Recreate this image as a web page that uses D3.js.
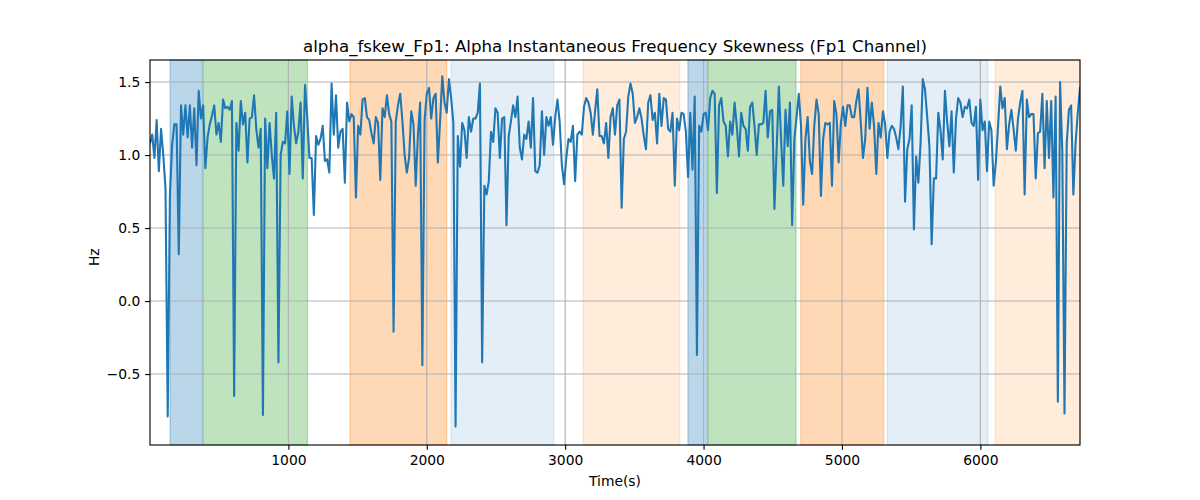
<!DOCTYPE html>
<html>
<head>
<meta charset="utf-8">
<script src="https://cdn.jsdelivr.net/npm/d3@7"></script>
<style>
  body { margin: 0; background: #fff; }
  svg text { font-family: "DejaVu Sans", sans-serif; fill: #000; }
</style>
</head>
<body>
<div id="chart-wrapper"></div>
<script>
// Sampling of the series (seconds)
const sampleStep = 16;

const hzPart1 = [
  1.08,1.14,0.98,1.24,0.89,1.18,1.00,0.77,-0.79,0.73,
  1.07,1.21,1.21,0.32,1.34,1.14,1.34,1.12,1.34,1.05,
  1.32,0.93,1.44,1.25,1.34,0.91,1.12,1.21,1.27,1.34,
  1.14,1.22,1.09,1.38,1.32,1.33,1.31,1.37,-0.65,1.22,
  1.03,1.37,1.21,1.29,0.95,1.25,1.26,1.41,1.18,1.05,
  1.18,-0.78,1.25,0.91,1.22,1.00,0.84,1.29,-0.42,1.00,
  1.09,1.08,1.30,0.87,1.40,1.20,1.08,1.16,1.36,0.84,
  1.48,1.26,0.98,0.98,0.59,1.13,1.07,1.11,1.20,0.96,
  0.97,0.88,1.49,1.14,1.41,1.05,1.16,1.18,0.81,1.36,
  1.23,1.28,1.26,0.71,1.20,1.14,1.38,1.39,1.26,1.24,
  1.15,1.08,1.26,1.22,0.83,1.32,1.26,1.41,1.28
];
const hzPart2 = [
  1.23,-0.21,1.23,1.34,1.42,1.23,1.00,0.88,0.98,1.30,
  1.21,0.79,1.14,1.36,-0.44,1.24,1.42,1.46,1.25,1.39,
  1.42,0.95,1.23,1.54,1.36,1.29,1.52,1.39,1.22,-0.86,
  1.13,0.92,1.22,1.17,0.98,1.26,1.16,1.25,1.25,1.29,
  1.49,-0.42,0.79,0.73,0.82,1.16,1.09,1.32,1.29,0.98,
  1.25,1.26,0.52,1.13,1.23,1.34,1.26,1.40,1.05,0.97,
  1.14,1.11,1.23,1.05,1.39,0.89,0.88,0.93,1.30,1.00,
  1.26,1.20,1.26,1.07,1.26,1.38,1.23,0.93,0.80,0.98,
  1.11,1.09,1.20,0.82,1.14,1.16,1.14,1.33,1.39,1.36,
  1.29,1.14,1.30,1.45,1.13,1.13,1.08,1.22,0.98,1.26,
  1.32,1.14,1.34,1.38
];
const hzPart3 = [
  0.64,
  1.11,1.16,1.40,1.49,1.42,1.22,1.26,1.32,1.25,1.13,
  1.04,1.36,1.41,1.24,1.29,1.08,1.42,1.20,1.39,1.38,
  1.18,1.16,1.29,0.79,1.25,1.17,1.29,1.28,1.16,0.85,
  1.29,0.90,1.40,
  -0.37,
  1.20,1.16,1.28,1.29,1.17,1.39,1.44,1.42
];
const hzPart4 = [
  0.74,1.34,1.39,1.23,1.20,0.99,1.23,1.14,1.36,1.20,
  0.99,1.29,1.20,1.18,1.03,1.33,1.36,1.20,1.00,1.21,
  1.21,1.22,1.44,1.12,1.30,1.31,0.63,1.04,1.47,1.11,
  0.79,1.31,1.06,1.36,0.52,1.11,1.26,1.42,1.20,0.66,
  1.11,1.26,0.96,0.87,1.20,1.38,1.28,0.72,1.11,1.22,
  1.21,1.22,0.79,1.37,1.28,0.95,1.22,1.33,1.20,1.34,
  1.34,1.26,1.26,1.37,1.45,1.22,0.98,1.11,1.46,1.18,
  1.36,1.20,0.87,1.22,1.12,1.30,1.21,0.98,1.16,1.20,
  1.18
];
const hzPart5 = [
  1.12,1.04,1.20,1.47,0.68,1.04,1.11,1.34,0.49,0.99,
  0.81,1.08,1.52,1.45,1.26,1.06,0.39,0.84,0.84,1.29,
  1.17,0.97,1.44,1.23,1.06,1.30,0.88,1.25,1.39,1.36,
  1.26,1.33,1.32,1.38,1.22,1.20,1.33,0.83,1.38,1.17,
  1.23,0.89,1.23,1.17,0.79,0.95,1.20,1.47,1.32,1.39,
  1.04,1.21,1.31,1.18,1.03,1.25,1.36,1.44,0.73,1.38,
  1.26,1.28,1.28,0.84,1.15,1.16,1.42,0.91,1.37,0.98,
  1.37,0.71,1.40,-0.69,1.50,1.03,-0.77,1.08,1.31,1.34,
  0.73,1.08,1.29,1.46
];

// Shaded periods (seconds) and their kind
const spanStarts = [145, 385, 1445, 2175, 3129, 3887, 4034, 4702, 5326, 6106];
const spanEnds   = [379, 1138, 2144, 2917, 3828, 4028, 4668, 5302, 6055, 6720];
const spanKinds  = ["blue", "green", "orange", "blueLight", "orangeLight",
                    "blue", "green", "orange", "blueLight", "orangeLight"];

// Ticks
const xTicks = [1000, 2000, 3000, 4000, 5000, 6000];
const yTicks = [-0.5, 0.0, 0.5, 1.0, 1.5];

const titleText = "alpha_fskew_Fp1: Alpha Instantaneous Frequency Skewness (Fp1 Channel)";

const initChart = () => {
  const hz = hzPart1.concat(hzPart2, hzPart3, hzPart4, hzPart5);
  const data = hz.map((v, i) => ({ t: i * sampleStep, v: v }));

  const fullWidth = 1200, fullHeight = 500;
  const margin = { top: 60, right: 120, bottom: 55, left: 150 };
  const width = fullWidth - margin.left - margin.right;
  const height = fullHeight - margin.top - margin.bottom;

  const pt = 100 / 72; // matplotlib points to px at 100 dpi

  const spanStyle = {
    blue:        { color: "#1f77b4", alpha: 0.3 },
    green:       { color: "#2ca02c", alpha: 0.3 },
    orange:      { color: "#ff7f0e", alpha: 0.3 },
    blueLight:   { color: "#1f77b4", alpha: 0.12 },
    orangeLight: { color: "#ff7f0e", alpha: 0.15 }
  };

  const xScale = d3.scaleLinear()
    .domain([0, d3.max(data, d => d.t)])
    .range([0, width]);

  const yScale = d3.scaleLinear()
    .domain([-0.986, 1.651])
    .range([height, 0]);

  const svg = d3.select("#chart-wrapper").append("svg")
    .attr("width", fullWidth)
    .attr("height", fullHeight);

  svg.append("defs").append("clipPath")
    .attr("id", "plot-clip")
    .append("rect")
    .attr("width", width)
    .attr("height", height);

  const g = svg.append("g")
    .attr("transform", `translate(${margin.left},${margin.top})`);

  // shaded spans
  const spans = spanStarts.map((s, i) => ({ s: s, e: spanEnds[i], k: spanKinds[i] }));
  g.append("g").selectAll("rect")
    .data(spans)
    .enter()
    .append("rect")
    .attr("x", d => xScale(d.s))
    .attr("y", 0)
    .attr("width", d => xScale(d.e) - xScale(d.s))
    .attr("height", height)
    .attr("fill", d => spanStyle[d.k].color)
    .attr("fill-opacity", d => spanStyle[d.k].alpha)
    .attr("stroke", d => spanStyle[d.k].color)
    .attr("stroke-opacity", d => spanStyle[d.k].alpha)
    .attr("stroke-width", 1.3);

  // grid
  const grid = g.append("g").attr("stroke", "#b0b0b0").attr("stroke-width", 0.8 * pt);
  grid.selectAll(".gx")
    .data(xTicks)
    .enter()
    .append("line")
    .attr("x1", d => xScale(d)).attr("x2", d => xScale(d))
    .attr("y1", 0).attr("y2", height);
  grid.selectAll(".gy")
    .data(yTicks)
    .enter()
    .append("line")
    .attr("x1", 0).attr("x2", width)
    .attr("y1", d => yScale(d)).attr("y2", d => yScale(d));

  // series line
  const line = d3.line()
    .x(d => xScale(d.t))
    .y(d => yScale(d.v));

  g.append("path")
    .datum(data)
    .attr("clip-path", "url(#plot-clip)")
    .attr("fill", "none")
    .attr("stroke", "#1f77b4")
    .attr("stroke-width", 1.5 * pt)
    .attr("stroke-linejoin", "round")
    .attr("stroke-linecap", "square")
    .attr("d", line);

  // axes
  const xAxis = d3.axisBottom(xScale)
    .tickValues(xTicks)
    .tickSize(3.5 * pt)
    .tickPadding(3.5 * pt)
    .tickFormat(d3.format("d"));
  const yAxis = d3.axisLeft(yScale)
    .tickValues(yTicks)
    .tickSize(3.5 * pt)
    .tickPadding(3.5 * pt)
    .tickFormat(d => d3.format(".1f")(d).replace("-", "\u2212"));

  const gx = g.append("g")
    .attr("transform", `translate(0,${height})`)
    .call(xAxis);
  const gy = g.append("g").call(yAxis);

  [gx, gy].forEach(a => {
    a.select(".domain").remove();
    a.selectAll("line").attr("stroke", "#000").attr("stroke-width", 0.8 * pt);
    a.selectAll("text")
      .attr("fill", "#000")
      .style("font-family", "DejaVu Sans, sans-serif")
      .style("font-size", (10 * pt) + "px");
  });

  // frame
  g.append("rect")
    .attr("width", width)
    .attr("height", height)
    .attr("fill", "none")
    .attr("stroke", "#000")
    .attr("stroke-width", 0.8 * pt);

  // title and labels
  svg.append("text")
    .attr("x", margin.left + width / 2)
    .attr("y", 52)
    .attr("text-anchor", "middle")
    .style("font-size", (12 * pt) + "px")
    .text(titleText);

  svg.append("text")
    .attr("x", margin.left + width / 2)
    .attr("y", 486)
    .attr("text-anchor", "middle")
    .style("font-size", (10 * pt) + "px")
    .text("Time(s)");

  svg.append("text")
    .attr("transform", `translate(99,${margin.top + yScale(0.3)}) rotate(-90)`)
    .attr("text-anchor", "middle")
    .style("font-size", (10 * pt) + "px")
    .text("Hz");
};

window.onload = () => {
  initChart();
};
</script>
</body>
</html>
